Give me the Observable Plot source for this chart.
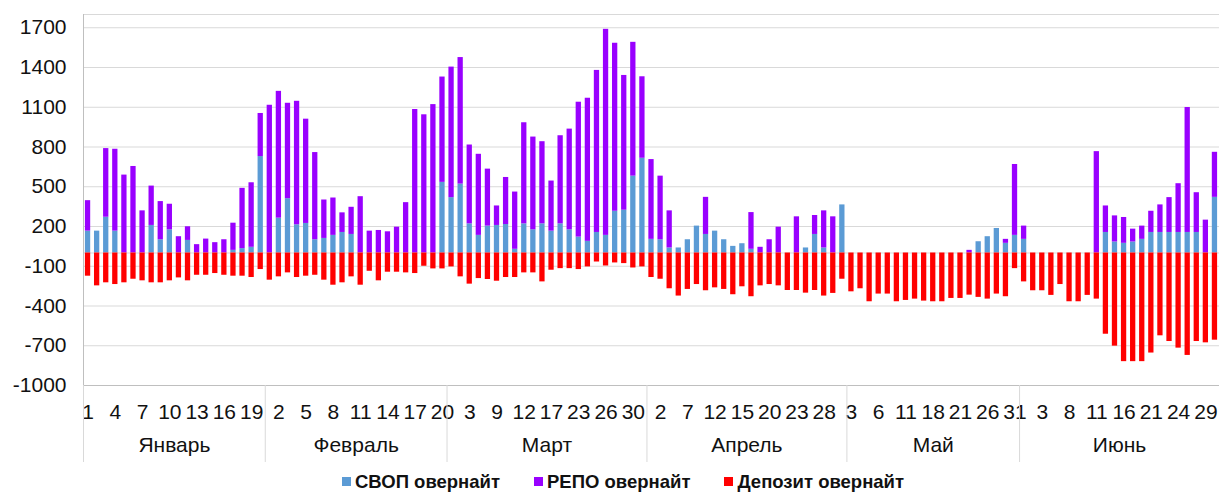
<!DOCTYPE html>
<html>
<head>
<meta charset="utf-8">
<script src="https://cdn.jsdelivr.net/npm/d3@7"></script>
<script src="https://cdn.jsdelivr.net/npm/@observablehq/plot@0.6"></script>
<style>
  body { margin: 0; background: #fff; font-family: "Liberation Sans", Arial, sans-serif; }
  #chart { width: 1219px; height: 492px; overflow: hidden; position: relative; }
  .legend { display: flex; align-items: center; height: 27px; padding-left: 342px; font-weight: bold; font-size: 18.5px; color: #111; box-sizing: border-box; padding-top: 6px; }
  .legend .item { display: flex; align-items: center; margin-right: 34px; white-space: nowrap; }
  .legend .sw { width: 9px; height: 9px; margin-right: 4px; }
</style>
</head>
<body>
<div id="chart"></div>
<script>
// ---------- data ----------
const months = ["Январь", "Февраль", "Март", "Апрель", "Май", "Июнь"];

const dayLabels = [
  [1,2,3,4,5,6,7,8,9,10,11,12,13,14,15,16,17,18,19,20],
  [1,2,3,4,5,6,7,8,9,10,11,12,13,14,15,16,17,18,19,20],
  [1,2,3,4,5,9,10,11,12,15,16,17,19,22,23,24,25,26,28,29,30,31],
  [1,2,5,6,7,8,9,12,13,14,15,16,19,20,21,22,23,26,27,28,29,30],
  [3,4,5,6,7,10,11,12,17,18,19,20,21,24,25,26,27,28,31],
  [1,2,3,4,7,8,9,10,11,14,15,16,17,18,21,22,23,24,25,28,29,30]
];

const seriesNames = ["СВОП овернайт", "РЕПО овернайт", "Депозит овернайт"];
const seriesColors = ["#5B9BD5", "#9900FF", "#FF0000"];

const svop = [
  165,165,270,165,0,0,0,208,100,175,0,95,0,0,0,0,20,33,43,728,
  0,263,410,213,223,100,110,133,155,140,0,0,0,0,0,0,0,0,0,533,
  418,520,220,133,203,208,215,28,220,175,220,165,220,175,120,88,155,133,315,323,580,715,
  103,100,38,38,100,203,140,165,100,50,70,28,0,0,0,0,0,38,140,38,0,363,
  0,0,0,0,0,0,0,0,0,0,0,0,0,0,85,123,185,73,133,
  103,0,0,0,0,0,0,0,0,155,83,73,83,103,155,155,155,155,155,155,0,420
];

const repo = [
  230,0,518,618,588,653,318,297,288,193,123,103,63,105,78,100,205,455,487,325,
  1115,957,720,932,787,658,290,282,148,205,425,165,170,160,195,380,1083,1043,1120,795,
  985,955,595,612,430,147,355,432,763,700,620,378,665,760,1018,1080,1223,1555,1268,1017,1010,615,
  602,480,280,0,0,0,280,0,0,0,0,277,43,100,195,0,273,0,143,280,273,0,
  0,0,0,0,0,0,0,0,0,0,0,0,0,20,0,0,0,30,535,
  100,0,0,0,0,0,0,0,765,200,197,195,97,100,160,208,263,368,943,300,248,340
];

const deposit = [
  -175,-248,-225,-238,-225,-198,-210,-225,-225,-210,-188,-210,-168,-168,-155,-168,-175,-175,-185,-125,
  -205,-180,-150,-185,-175,-168,-205,-243,-225,-180,-243,-138,-210,-145,-145,-150,-155,-100,-120,-120,
  -105,-180,-235,-193,-200,-213,-185,-185,-150,-150,-218,-130,-118,-118,-125,-105,-68,-98,-75,-80,-113,-105,
  -185,-198,-270,-325,-275,-238,-285,-263,-275,-315,-255,-330,-248,-238,-248,-283,-283,-303,-283,-325,-305,-198,
  -293,-270,-368,-310,-310,-368,-358,-348,-363,-368,-368,-343,-343,-318,-335,-348,-310,-330,-118,
  -218,-285,-285,-320,-238,-368,-368,-320,-348,-613,-703,-820,-820,-820,-755,-625,-668,-718,-773,-668,-678,-658
];

const yTicks = [-1000, -700, -400, -100, 200, 500, 800, 1100, 1400, 1700];

// ---------- build ----------
const labels = dayLabels.flat();
const n = labels.length;
const bounds = [0];
dayLabels.forEach(d => bounds.push(bounds[bounds.length - 1] + d.length));

const rows = [];
[svop, repo, deposit].forEach((vals, k) => {
  vals.forEach((v, i) => rows.push({ i, series: seriesNames[k], value: v }));
});

const labelTicks = d3.range(0, n, 3).map(i => i + 0.5);
const monthRows = months.map((m, j) => ({ m, mid: (bounds[j] + bounds[j + 1]) / 2 }));

const plot = Plot.plot({
  width: 1219,
  height: 465,
  marginLeft: 83,
  marginRight: 0,
  marginTop: 14,
  marginBottom: 80,
  style: { fontFamily: "'Liberation Sans', Arial, sans-serif", fontSize: "21px", color: "#111", background: "#fff", overflow: "visible" },
  x: { type: "linear", domain: [0, n], axis: null, label: null },
  y: { domain: [-1000, 1800], axis: null, label: null },
  color: { domain: seriesNames, range: seriesColors },
  marks: [
    Plot.gridY(yTicks, { stroke: "#d9d9d9", strokeOpacity: 1, strokeWidth: 1 }),
    Plot.ruleY([1800, 0], { stroke: "#d9d9d9", strokeWidth: 1 }),
    Plot.rectY(rows, { x1: "i", x2: d => d.i + 1, y: "value", fill: "series", insetLeft: 1.9, insetRight: 1.9 }),
    Plot.ruleY([-1000], { stroke: "#bfbfbf" }),
    Plot.ruleX([0], { stroke: "#bfbfbf" }),
    Plot.axisY(yTicks, { anchor: "left", tickSize: 0, tickPadding: 17, fontSize: 21, tickFormat: d => String(d) }),
    Plot.axisX(labelTicks, { anchor: "bottom", tickSize: 0, tickPadding: 18.5, fontSize: 21, tickFormat: v => String(labels[Math.floor(v)]) }),
    Plot.axisX(bounds, { anchor: "bottom", tickSize: 77, stroke: "#d9d9d9", tickFormat: () => "" }),
    Plot.text(monthRows, { x: "mid", text: "m", frameAnchor: "bottom", dy: 66, fontSize: 21, fill: "#111" })
  ]
});

const chart = document.getElementById("chart");
chart.appendChild(plot);

const legend = document.createElement("div");
legend.className = "legend";
seriesNames.forEach((s, k) => {
  const item = document.createElement("div");
  item.className = "item";
  const sw = document.createElement("span");
  sw.className = "sw";
  sw.style.background = seriesColors[k];
  const t = document.createElement("span");
  t.textContent = s;
  item.appendChild(sw);
  item.appendChild(t);
  legend.appendChild(item);
});
chart.appendChild(legend);
</script>
</body>
</html>
